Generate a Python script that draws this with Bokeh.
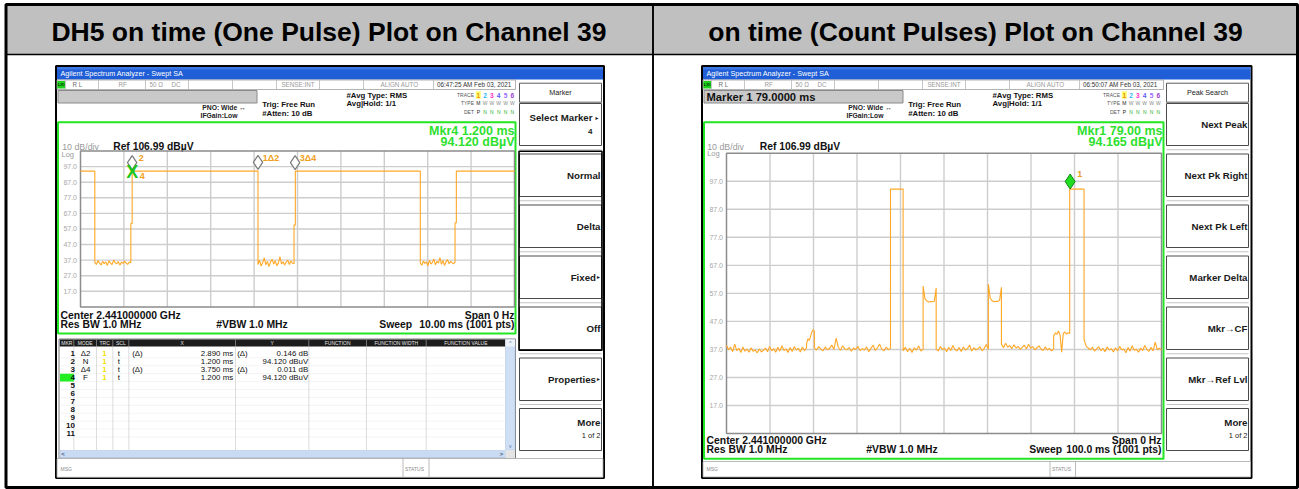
import numpy as np
from bokeh.plotting import figure
from bokeh.models import Range1d
from bokeh.core.properties import value
from bokeh.embed import file_html
from bokeh.resources import INLINE

# ------------------------------------------------------------------ data
panel_titles = ["DH5 on time (One Pulse) Plot on Channel 39",
                "on time (Count Pulses) Plot on Channel 39"]

ref_level_dbuv = 106.99
db_per_div = 10.0
n_div = 10
level_ticks = [97.0, 87.0, 77.0, 67.0, 57.0, 47.0, 37.0, 27.0, 17.0]
level_tick_labels = ["97.0", "87.0", "77.0", "67.0", "57.0", "47.0", "37.0", "27.0", "17.0"]

left_sweep_ms = 10.0
right_sweep_ms = 100.0

# left trace (one pulse), read segment by segment (ms, dBuV)
left_on_db = 94.12
left_noise_1 = [35.6, 34.2, 36.8, 35.1, 33.9, 36.2, 34.8, 35.9, 33.6, 36.5, 35.2, 34.1,
                37.0, 35.4, 34.6, 36.1, 33.8, 35.7, 34.9, 36.4, 35.0, 34.3, 35.8, 35.3]
left_noise_2 = [34.1, 36.9, 33.2, 35.5, 38.4, 34.0, 36.2, 32.8, 35.9, 37.6, 34.4, 36.7,
                33.5, 35.1, 39.2, 34.6, 36.0, 33.9, 35.8, 37.1, 34.2, 36.5, 35.0, 34.7]
left_noise_3 = [35.2, 33.7, 36.4, 34.9, 35.8, 33.4, 36.9, 34.5, 35.6, 37.8, 34.0, 36.2,
                35.1, 38.6, 34.3, 36.8, 33.6, 35.9, 37.3, 34.8, 36.1, 35.4, 34.6, 35.7]
left_pieces = [
    (0.00, 0.33, [left_on_db, left_on_db]),
    (0.33, 1.16, left_noise_1),
    (1.16, 1.19, [60.5, 60.5]),
    (1.19, 4.09, [left_on_db, left_on_db]),
    (4.09, 4.92, left_noise_2),
    (4.92, 4.95, [59.5, 59.5]),
    (4.95, 7.83, [left_on_db, left_on_db]),
    (7.83, 8.63, left_noise_3),
    (8.63, 8.66, [61.0, 61.0]),
    (8.66, 10.00, [left_on_db, left_on_db]),
]

# right trace (count pulses)
right_on_db = 94.17
right_noise_1 = [38.5, 36.9, 37.8, 36.2, 38.9, 36.6, 37.4, 35.9, 37.9, 36.4, 37.1, 36.0,
                 37.6, 36.3, 36.8, 35.8, 37.2, 36.1, 36.7, 37.5, 36.2, 38.1, 36.5, 37.3,
                 36.0, 37.8, 36.4, 38.3, 36.6, 37.2, 35.9, 37.7, 36.3, 38.0, 36.8, 37.4,
                 36.1, 37.9, 36.5, 37.6]
right_bump = [39.0, 40.8, 40.2, 41.5, 43.2, 44.0, 43.5]
right_noise_2 = [37.6, 36.8, 38.0, 37.1, 36.5, 37.9, 36.9, 37.4, 38.6, 37.0, 41.0, 37.8,
                 36.7, 38.3, 37.2, 36.9, 37.7, 36.4, 37.5, 37.0, 38.1, 36.6, 37.3, 36.8,
                 37.9, 36.2, 37.4, 38.5, 36.7, 37.6, 38.9, 37.1, 36.5, 37.8, 36.9, 37.3]
right_noise_3 = [36.5, 37.8, 36.2, 37.4, 35.9, 37.6, 36.8, 38.2, 36.4, 37.1]
right_mid_1 = [59.6, 55.0, 54.3, 53.9, 54.1, 54.0, 54.2, 58.9]
right_noise_4 = [37.2, 36.4, 38.1, 36.9, 37.5, 36.2, 37.8, 36.6, 38.4, 37.0, 36.5, 37.7,
                 36.3, 37.9, 36.8, 37.3, 38.6, 36.4, 37.6, 36.9, 37.2, 38.0, 36.5, 37.4,
                 38.8, 37.1]
right_mid_2 = [60.3, 55.2, 54.4, 54.0, 54.2, 54.1, 54.5, 59.2]
right_noise_5 = [38.9, 37.6, 39.2, 37.9, 38.4, 37.3, 38.7, 37.5, 38.1, 37.0, 37.8, 38.5,
                 37.2, 38.9, 37.4, 38.0, 36.9, 37.6, 38.3, 37.1, 36.6, 37.9, 36.8, 37.4,
                 36.5, 37.2]
right_raised = [41.8, 42.9, 42.4, 43.6, 42.1, 36.0, 42.8, 43.2, 42.5, 43.0, 42.7]
right_noise_6 = [40.4, 38.2, 37.5, 36.9, 37.8, 36.4, 37.2, 38.0, 36.6, 37.4, 36.2, 37.9,
                 36.8, 37.3, 36.1, 37.6, 36.5, 38.1, 36.9, 37.2, 35.8, 37.7, 36.4, 38.3,
                 36.7, 37.1, 36.0, 37.5, 36.6, 38.4, 37.0, 36.3, 37.8, 36.5, 39.6, 36.9,
                 37.4, 36.8]
right_pieces = [
    (0.0, 18.4, right_noise_1),
    (18.4, 20.2, right_bump),
    (20.2, 37.7, right_noise_2),
    (37.7, 40.6, [right_on_db, right_on_db]),
    (40.6, 45.2, right_noise_3),
    (45.2, 48.2, right_mid_1),
    (48.2, 60.2, right_noise_4),
    (60.2, 63.2, right_mid_2),
    (63.2, 75.2, right_noise_5),
    (75.2, 78.9, right_raised),
    (78.9, 82.2, [right_on_db, right_on_db]),
    (82.2, 100.0, right_noise_6),
]

# marker table (left screen)
mk_table_num = ["1", "2", "3", "4", "5", "6", "7", "8", "9", "10", "11"]
mk_mode = ["Δ2", "N", "Δ4", "F"]
mk_trc = ["1", "1", "1", "1"]
mk_scl = ["t", "t", "t", "t"]
mk_x_flag = ["(Δ)", "", "(Δ)", ""]
mk_x_text = ["2.890 ms", "1.200 ms", "3.750 ms", "1.200 ms"]
mk_y_flag = ["(Δ)", "", "(Δ)", ""]
mk_y_text = ["0.146 dB", "94.120 dBuV", "0.011 dB", "94.120 dBuV"]
mk2_ms, mk2_db = 1.200, 94.120
mk1_delta_ms, mk1_delta_db = 2.890, 0.146
mk4_ms, mk4_db = 1.200, 94.120
mk3_delta_ms, mk3_delta_db = 3.750, 0.011
right_mk1_ms, right_mk1_db = 79.00, 94.165

trace_digits = ["1", "2", "3", "4", "5", "6"]
trace_digit_colors = ["#f09000", "#30b8ff", "#ff30c8", "#5a5aff", "#9a6aff", "#9a40d0"]

left_buttons = [("Select Marker", "4", True), ("Normal", None, False), ("Delta", None, False),
                ("Fixed", None, True), ("Off", None, False), ("Properties", None, True),
                ("More", "1 of 2", False)]
right_buttons = [("Next Peak", None, False), ("Next Pk Right", None, False),
                 ("Next Pk Left", None, False), ("Marker Delta", None, False),
                 ("Mkr→CF", None, False), ("Mkr→Ref Lvl", None, False),
                 ("More", "1 of 2", False)]

# ------------------------------------------------------------------ figure
FONT = value("Liberation Sans")
W, H = 1299, 489
PX0, PY0 = 0, 0

p = figure(width=W, height=H, x_range=Range1d(PX0, PX0 + W), y_range=Range1d(PY0 + H, PY0),
           toolbar_location=None, output_backend="svg", min_border=0,
           x_axis_location=None, y_axis_location=None, title=None)
p.outline_line_color = None
p.background_fill_color = "white"
p.border_fill_color = "white"
p.grid.visible = False


def axis_range(v_a, px_a, v_b, px_b, px_lo, px_hi):
    k = (v_b - v_a) / (px_b - px_a)
    return Range1d(v_a + (px_lo - px_a) * k, v_a + (px_hi - px_a) * k)


bottom_db = ref_level_dbuv - n_div * db_per_div
LP = (80.0, 514.0, 150.6, 306.4)
RP = (726.0, 1161.0, 152.7, 433.1)
p.extra_x_ranges = {
    "tL": axis_range(0.0, LP[0], left_sweep_ms, LP[1], PX0, PX0 + W),
    "tR": axis_range(0.0, RP[0], right_sweep_ms, RP[1], PX0, PX0 + W),
}
p.extra_y_ranges = {
    "dL": axis_range(ref_level_dbuv, LP[2], bottom_db, LP[3], PY0 + H, PY0),
    "dR": axis_range(ref_level_dbuv, RP[2], bottom_db, RP[3], PY0 + H, PY0),
}


def box(l, r, t, b, fill="white", line=None, lw=1.0):
    p.quad(left=[l], right=[r], top=[t], bottom=[b],
           fill_color=fill, line_color=line, line_width=lw)


def seg(x0, y0, x1, y1, color="#000000", lw=1.0):
    p.segment(x0=[x0], y0=[y0], x1=[x1], y1=[y1], line_color=color, line_width=lw)


def txt(x, yc, s, size, color="#000000", bold=False, align="left"):
    p.text(x=[x], y=[yc], text=[s], text_font=FONT,
           text_font_size=f"{size}px", text_font_style="bold" if bold else "normal",
           text_color=color, text_align=align, text_baseline="middle")


def build_trace(pieces):
    ts, ds = [], []
    for t0, t1, vals in pieces:
        ts.extend(np.linspace(t0, t1, len(vals)).tolist())
        ds.extend(vals)
    return ts, ds


# ------------------------------------------------------------------ outer table
box(5.5, 1297.0, 4.0, 54.0, fill="#c0c0c0")
seg(5.5, 54.0, 1297.0, 54.0, "#000000", 1.7)
seg(652.5, 4.0, 652.5, 487.0, "#000000", 1.9)
box(5.5, 1297.0, 4.0, 487.0, fill=None, line="#000000", lw=3)
txt(328.5, 31.0, panel_titles[0], 26.5, "#000000", True, "center")
txt(975.0, 31.0, panel_titles[1], 26.5, "#000000", True, "center")


# ------------------------------------------------------------------ screens
def screen(dx, frame_r, green_r, green_b, date):
    box(55.5 + dx, frame_r, 65.5, 477.5, fill="white", line="#000000", lw=2)
    box(56.5 + dx, frame_r - 1, 66.5, 79.0, fill="#1f5ed6")
    box(56.5 + dx, frame_r - 1, 66.5, 69.0, fill="#3d78e4")
    txt(60 + dx, 72.8, "Agilent Spectrum Analyzer - Swept SA", 7.2, "#ffffff")
    # status row
    box(56.5 + dx, green_r, 79.5, 89.0, fill="white", line="#a0a0a0", lw=0.8)
    for xv in [65, 98, 145, 188, 232, 276, 319, 363, 433]:
        seg(xv + dx, 79.5, xv + dx, 89.0, "#b8b8b8", 0.8)
    box(56.8 + dx, 64.5 + dx, 80.5, 88.0, fill="#1ed21e")
    txt(60.6 + dx, 84.3, "LXI", 4.4, "#003300", True, "center")
    txt(72 + dx, 84.3, "R L", 6.3, "#707070")
    txt(118 + dx, 84.3, "RF", 6.3, "#9a9a9a")
    txt(149 + dx, 84.3, "50 Ω", 6.3, "#9a9a9a")
    txt(171 + dx, 84.3, "DC", 6.3, "#9a9a9a")
    txt(297.5 + dx, 84.3, "SENSE:INT", 6.3, "#9a9a9a", align="center")
    txt(418 + dx, 84.3, "ALIGN AUTO", 6.3, "#9a9a9a", align="right")
    txt(436.5 + dx, 84.3, date, 6.3, "#333333")
    # info area
    box(57.5 + dx, 256.5 + dx, 90.0, 102.5, fill="#c9c9c9", line="#8a8a8a", lw=1)
    txt(201.7 + dx, 106.8, "PNO: Wide ↔", 6.8, "#222222", True)
    txt(200.0 + dx, 115.0, "IFGain:Low", 6.8, "#222222", True)
    txt(261.7 + dx, 104.2, "Trig: Free Run", 7.8, "#111111", True)
    txt(261.7 + dx, 113.3, "#Atten: 10 dB", 7.8, "#111111", True)
    txt(346.0 + dx, 94.5, "#Avg Type: RMS", 7.8, "#111111", True)
    txt(346.0 + dx, 103.3, "Avg|Hold: 1/1", 7.8, "#111111", True)
    txt(473.5 + dx, 94.5, "TRACE", 5.0, "#555555", align="right")
    txt(473.5 + dx, 102.8, "TYPE", 5.0, "#555555", align="right")
    txt(473.5 + dx, 111.0, "DET", 5.0, "#555555", align="right")
    box(475.3 + dx, 480.3 + dx, 90.8, 98.3, fill="#ffff70")
    for i, (d, c) in enumerate(zip(trace_digits, trace_digit_colors)):
        xc = 477.8 + i * 6.8 + dx
        txt(xc, 94.5, d, 6.6, c, True, "center")
        txt(xc, 102.8, "M" if i == 0 else "W", 5.0, "#222222" if i == 0 else "#8a8a8a",
            align="center")
        txt(xc, 111.0, "P" if i == 0 else "N", 5.0, "#222222" if i == 0 else "#30b030",
            align="center")
    # green measurement box
    box(57.5 + dx, green_r, 121.7, green_b, fill=None, line="#22e622", lw=2)


def button_panel(pl, pr, header, buttons, group):
    box(pl, pr, 82.7, 101.7, fill="white", line="#5a5a5a", lw=1)
    txt((pl + pr) / 2, 92.0, header, 7.2, "#222222", align="center")
    tops = [103.0, 153.5, 204.5, 255.5, 306.5, 357.5, 408.0]
    bots = [145.0, 196.0, 247.0, 298.0, 349.0, 400.0, 450.0]
    for k, (t, b) in enumerate(zip(tops, bots)):
        if k > 0:
            seg(pl, (bots[k - 1] + t) / 2, pr, (bots[k - 1] + t) / 2, "#c4c4c4", 1)
        box(pl, pr, t, b, fill="white", line="#4a4a4a", lw=1)
        main, sub, arrow = buttons[k]
        if sub is not None:
            right = pr - 9 if arrow else pr - 1
            txt(right, t + 14.0, main, 9.7, "#1a1a1a", True, "right")
            if arrow:
                txt(pr - 4.5, t + 14.0, "►", 5.0, "#1a1a1a", align="center")
            if sub == "4":
                txt(right, t + 28.0, sub, 8.0, "#1a1a1a", True, "right")
            else:
                txt(pr - 1, t + 26.5, sub, 7.5, "#1a1a1a", False, "right")
        else:
            yc = (t + b) / 2
            if arrow:
                txt(pr - 5.5, yc, main, 9.7, "#1a1a1a", True, "right")
                txt(pr - 3.0, yc, "►", 5.0, "#1a1a1a", align="center")
            else:
                txt(pr - 1, yc, main, 9.7, "#1a1a1a", True, "right")
    if group:
        box(pl - 0.5, pr + 0.5, 150.7, 349.8, fill=None, line="#000000", lw=1.6)


def draw_plot(xr, yr, sweep, pieces):
    t_div = sweep / n_div
    xs = [t_div * i for i in range(1, n_div)]
    p.segment(x0=xs, y0=[bottom_db] * len(xs), x1=xs, y1=[ref_level_dbuv] * len(xs),
              line_color="#cdcdcd", line_width=1.4, x_range_name=xr, y_range_name=yr)
    p.segment(x0=[0.0] * len(level_ticks), y0=level_ticks, x1=[sweep] * len(level_ticks),
              y1=level_ticks, line_color="#cdcdcd", line_width=1.4,
              x_range_name=xr, y_range_name=yr)
    p.quad(left=[0.0], right=[sweep], top=[ref_level_dbuv], bottom=[bottom_db],
           fill_color=None, line_color="#8c8c8c", line_width=1.5,
           x_range_name=xr, y_range_name=yr)
    p.text(x=[0.0] * len(level_ticks), y=level_ticks, text=level_tick_labels,
           x_offset=-3.5, y_offset=0.0, text_font=FONT, text_font_size="7px",
           text_color="#a8a8a8", text_align="right", text_baseline="middle",
           x_range_name=xr, y_range_name=yr)
    ts, ds = build_trace(pieces)
    p.line(x=ts, y=ds, line_color="#ffa826", line_width=1.1,
           x_range_name=xr, y_range_name=yr)


def mtext(xr, yr, x, y, s, dxp, dyc, size, color, bold=True, align="left"):
    p.text(x=[x], y=[y], text=[s], x_offset=dxp, y_offset=dyc,
           text_font=FONT, text_font_size=f"{size}px",
           text_font_style="bold" if bold else "normal", text_color=color,
           text_align=align, text_baseline="middle", x_range_name=xr, y_range_name=yr)


# ---------------- left screen
screen(0, 603.5, 515.0, 333.0, "06:47:25 AM Feb 03, 2021")
button_panel(519.0, 601.0, "Marker", left_buttons, True)
txt(514.0, 130.0, "Mkr4 1.200 ms", 12.5, "#2ee02e", True, "right")
txt(514.0, 141.7, "94.120 dBµV", 12.5, "#2ee02e", True, "right")
txt(61.7, 146.0, "10 dB/div", 8.8, "#9a9a9a")
txt(112.7, 146.0, "Ref 106.99 dBµV", 10.3, "#111111", True)
txt(61.0, 153.6, "Log", 7.5, "#9a9a9a")
draw_plot("tL", "dL", left_sweep_ms, left_pieces)
txt(60.0, 315.0, "Center 2.441000000 GHz", 10.4, "#111111", True)
txt(514.0, 315.0, "Span 0 Hz", 10.4, "#111111", True, "right")
txt(60.0, 323.6, "Res BW 1.0 MHz", 10.4, "#111111", True)
txt(215.7, 323.6, "#VBW 1.0 MHz", 10.4, "#111111", True)
txt(411.7, 323.6, "Sweep", 10.4, "#111111", True, "right")
txt(514.0, 323.6, "10.00 ms (1001 pts)", 10.4, "#111111", True, "right")

# markers on the left trace
px_per_db_L = (LP[3] - LP[2]) / (n_div * db_per_div)
lift_L = 8.5 / px_per_db_L
mk1_ms, mk1_db = mk2_ms + mk1_delta_ms, mk2_db + mk1_delta_db
mk3_ms, mk3_db = mk4_ms + mk3_delta_ms, mk4_db + mk3_delta_db
p.scatter(x=[mk2_ms - 0.01, mk1_ms, mk3_ms - 0.005],
          y=[mk2_db + lift_L, mk1_db + lift_L, mk3_db + lift_L],
          marker="diamond", size=14, fill_color="white", line_color="#7a7a7a",
          line_width=1.2, x_range_name="tL", y_range_name="dL")
p.text(x=[mk4_ms], y=[mk4_db], text=["X"], x_offset=-0.3, y_offset=1.0,
       text_font=FONT, text_font_size="18px", text_font_style="bold",
       text_color="#1cc41c", text_align="center", text_baseline="middle",
       x_range_name="tL", y_range_name="dL")
mtext("tL", "dL", mk2_ms, mk2_db, "2", 6.2, -13.4, 9.0, "#f0a020")
mtext("tL", "dL", mk4_ms, mk4_db, "4", 7.2, 5.0, 9.0, "#f0a020")
mtext("tL", "dL", mk1_ms, mk1_db, "1Δ2", 4.8, -13.2, 9.0, "#f0a020")
mtext("tL", "dL", mk3_ms, mk3_db, "3Δ4", 4.5, -13.2, 9.0, "#f0a020")

# marker table
col_edges = [59.3, 73.3, 96.0, 112.3, 128.3, 235.0, 308.3, 366.0, 425.7, 505.0]
heads = ["MKR", "MODE", "TRC", "SCL", "X", "Y", "FUNCTION", "FUNCTION WIDTH", "FUNCTION VALUE"]
box(58.5, 515.0, 338.5, 457.5, fill="white", line="#7a7a7a", lw=1)
box(59.3, 505.0, 339.0, 346.0, fill="#1c1c1c")
for i, h in enumerate(heads):
    txt((col_edges[i] + col_edges[i + 1]) / 2, 342.6, h, 5.0, "#e4e4e4", align="center")
row_y = [353.3 + 7.93 * k for k in range(len(mk_table_num))]
for yv in row_y:
    seg(59.3, yv + 3.96, 505.0, yv + 3.96, "#efefef", 0.7)
for xe in col_edges[1:-1]:
    seg(xe, 339.0, xe, 346.0, "#8a8a8a", 0.8)
    seg(xe, 346.0, xe, 449.5, "#d4d4d4", 0.8)
box(59.5, 73.3, row_y[3] - 3.9, row_y[3] + 3.9, fill="#22ee22")
for k, num in enumerate(mk_table_num):
    txt(74.5, row_y[k], num, 8.0, "#111111", True, "right")
for k in range(len(mk_mode)):
    txt(85.0, row_y[k], mk_mode[k], 7.9, "#111111", False, "center")
    txt(104.0, row_y[k], mk_trc[k], 7.9, "#f0e000", True, "center")
    txt(118.3, row_y[k], mk_scl[k], 7.9, "#111111", False, "center")
    txt(131.7, row_y[k], mk_x_flag[k], 7.9, "#111111")
    txt(232.7, row_y[k], mk_x_text[k], 7.9, "#111111", False, "right")
    txt(236.7, row_y[k], mk_y_flag[k], 7.9, "#111111")
    txt(307.7, row_y[k], mk_y_text[k], 7.9, "#111111", False, "right")
box(505.0, 514.5, 339.0, 449.5, fill="#cfe0f6", line="#b4c6e2", lw=0.6)
box(505.0, 514.5, 339.0, 346.0, fill="#eef3fb")
txt(509.75, 342.6, "^", 5.5, "#5070a0", False, "center")
txt(509.75, 445.0, "v", 5.0, "#5070a0", False, "center")
box(59.3, 505.0, 450.0, 457.0, fill="#c8dbf3", line="#b4c6e2", lw=0.6)
txt(62.5, 453.5, "<", 6.0, "#4a5a80", True, "center")
txt(501.0, 453.5, ">", 6.0, "#4a5a80", True, "center")
box(505.0, 514.5, 449.5, 457.5, fill="#e4e4e4")
# message row
box(56.5, 602.5, 458.0, 476.8, fill="white", line="#a8a8a8", lw=0.8)
seg(402.5, 458.0, 402.5, 476.8, "#a8a8a8", 0.8)
seg(428.5, 458.0, 428.5, 476.8, "#a8a8a8", 0.8)
txt(60.0, 468.5, "MSG", 5.0, "#8a8a8a")
txt(404.5, 468.5, "STATUS", 5.0, "#8a8a8a")

# ---------------- right screen
screen(646, 1251.0, 1163.0, 458.3, "06:50:07 AM Feb 03, 2021")
button_panel(1166.0, 1248.0, "Peak Search", right_buttons, False)
txt(706.0, 96.5, "Marker 1 79.0000 ms", 11.2, "#111111", True)
txt(1162.0, 130.0, "Mkr1 79.00 ms", 12.5, "#2ee02e", True, "right")
txt(1162.0, 141.7, "94.165 dBµV", 12.5, "#2ee02e", True, "right")
txt(706.7, 146.0, "10 dB/div", 8.8, "#9a9a9a")
txt(759.3, 146.0, "Ref 106.99 dBµV", 10.3, "#111111", True)
txt(706.7, 153.3, "Log", 7.5, "#9a9a9a")
draw_plot("tR", "dR", right_sweep_ms, right_pieces)
txt(706.0, 440.0, "Center 2.441000000 GHz", 10.4, "#111111", True)
txt(1161.0, 440.0, "Span 0 Hz", 10.4, "#111111", True, "right")
txt(706.0, 449.3, "Res BW 1.0 MHz", 10.4, "#111111", True)
txt(865.7, 449.3, "#VBW 1.0 MHz", 10.4, "#111111", True)
txt(1061.7, 449.3, "Sweep", 10.4, "#111111", True, "right")
txt(1161.0, 449.3, "100.0 ms (1001 pts)", 10.4, "#111111", True, "right")
px_per_db_R = (RP[3] - RP[2]) / (n_div * db_per_div)
lift_R = 7.6 / px_per_db_R
p.scatter(x=[right_mk1_ms], y=[right_mk1_db + lift_R], marker="diamond", size=15,
          fill_color="#22dd22", line_color="#118811", line_width=1.0,
          x_range_name="tR", y_range_name="dR")
mtext("tR", "dR", right_mk1_ms, right_mk1_db, "1", 7.0, -15.0, 9.0, "#f0a020")
box(702.5, 1250.0, 461.0, 476.5, fill="white", line="#a8a8a8", lw=0.8)
seg(1049.5, 461.0, 1049.5, 476.5, "#a8a8a8", 0.8)
seg(1075.0, 461.0, 1075.0, 476.5, "#a8a8a8", 0.8)
txt(706.0, 468.5, "MSG", 5.0, "#8a8a8a")
txt(1051.5, 468.5, "STATUS", 5.0, "#8a8a8a")

open("out.html", "w").write(file_html(p, INLINE))
